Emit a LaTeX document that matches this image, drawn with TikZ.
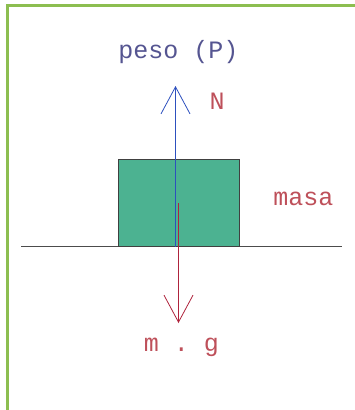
\documentclass[tikz,border=0pt]{standalone}
\usepackage{fontspec}
\setmonofont{Liberation Mono}
\usetikzlibrary{arrows.meta}
\definecolor{frameg}{RGB}{140,190,80}
\definecolor{boxg}{RGB}{76,178,145}
\definecolor{nblue}{RGB}{45,80,190}
\definecolor{pblue}{RGB}{85,85,145}
\definecolor{wred}{RGB}{175,35,60}
\definecolor{tred}{RGB}{190,80,90}
\tikzset{
  lbl/.style={font=\ttfamily\fontsize{25}{25}\selectfont, inner sep=0pt, anchor=base},
  force/.style={line width=0.8pt, -{Straight Barb[length=27pt,width=29pt,line width=0.8pt]}},
}
\begin{document}
\begin{tikzpicture}[x=1pt,y=-1pt]
\useasboundingbox (0,0) rectangle (355,410);
% frame
\draw[frameg, line width=2.6pt] (7.5,410) -- (7.5,5.5) -- (355,5.5);
% ground
\coordinate (gl) at (21,246.5);
\coordinate (gr) at (342,246.5);
\draw[black!70, line width=0.9pt] (gl) -- (gr);
% block
\node[draw=black!75, fill=boxg, line width=0.8pt, minimum width=121pt, minimum height=87pt, inner sep=0pt] (box) at (178.5,202.75) {};
% forces
\coordinate (nbase) at (175.5,246.5);
\coordinate (ntip) at (175.5,86);
\draw[force, nblue] (nbase) -- (ntip);
\coordinate (gstart) at (178.5,203);
\coordinate (gtip) at (178.5,323);
\draw[force, wred] (gstart) -- (gtip);
% labels
\node[lbl, text=pblue] (peso) at (178.5,58) {peso (P)};
\node[lbl, text=tred] (nlab) at (217,109) {N};
\node[lbl, text=tred] (masa) at (303.5,205) {masa};
\node[lbl, text=tred] (mg) at (181.5,351) {m . g};
\end{tikzpicture}
\end{document}
